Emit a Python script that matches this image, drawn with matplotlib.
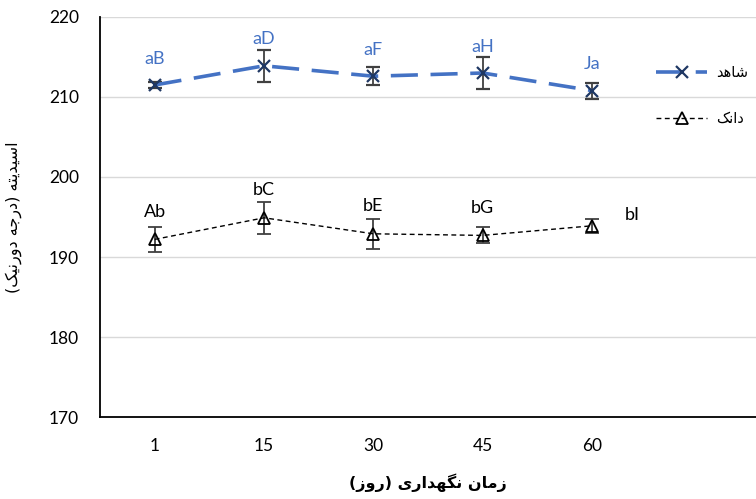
import matplotlib
matplotlib.use("Agg")
import matplotlib.pyplot as plt
import numpy as np
from matplotlib.lines import Line2D

# ---------------- data ----------------
days = ["1", "15", "30", "45", "60"]
control_vals = [211.5, 213.9, 212.6, 213.0, 210.8]
control_err = [0.4, 2.0, 1.1, 2.0, 1.0]
control_labels = ["aB", "aD", "aF", "aH", "Ja"]
dank_vals = [192.2, 194.9, 192.9, 192.7, 193.9]
dank_err = [1.6, 2.0, 1.9, 1.0, 0.9]
dank_labels = ["Ab", "bC", "bE", "bG", "bI"]
yticks = [170, 180, 190, 200, 210, 220]

# ---------------- minimal Persian shaping ----------------
FORMS = {
    "ا": ("\uFE8D", "\uFE8E", None, None),
    "د": ("\uFEA9", "\uFEAA", None, None),
    "ر": ("\uFEAD", "\uFEAE", None, None),
    "ز": ("\uFEAF", "\uFEB0", None, None),
    "و": ("\uFEED", "\uFEEE", None, None),
    "س": ("\uFEB1", "\uFEB2", "\uFEB3", "\uFEB4"),
    "ش": ("\uFEB5", "\uFEB6", "\uFEB7", "\uFEB8"),
    "ت": ("\uFE95", "\uFE96", "\uFE97", "\uFE98"),
    "ج": ("\uFE9D", "\uFE9E", "\uFE9F", "\uFEA0"),
    "ه": ("\uFEE9", "\uFEEA", "\uFEEB", "\uFEEC"),
    "ن": ("\uFEE5", "\uFEE6", "\uFEE7", "\uFEE8"),
    "م": ("\uFEE1", "\uFEE2", "\uFEE3", "\uFEE4"),
    "ی": ("\uFBFC", "\uFBFD", "\uFBFE", "\uFBFF"),
    "ک": ("\uFB8E", "\uFB8F", "\uFB90", "\uFB91"),
    "گ": ("\uFB92", "\uFB93", "\uFB94", "\uFB95"),
}


def shape(s):
    out = []
    n = len(s)
    for i, c in enumerate(s):
        if c not in FORMS:
            out.append(c)
            continue
        iso, fin, ini, med = FORMS[c]
        prev = s[i - 1] if i > 0 else None
        nxt = s[i + 1] if i < n - 1 else None
        jp = prev in FORMS and FORMS[prev][2] is not None
        jn = ini is not None and nxt in FORMS
        if jp and jn:
            out.append(med)
        elif jp:
            out.append(fin)
        elif jn:
            out.append(ini)
        else:
            out.append(iso)
    vis = "".join(reversed(out))
    return vis.translate(str.maketrans("()", ")("))


ylabel = shape("اسیدیته (درجه دورنیک)")
xlabel = shape("زمان نگهداری (روز)")
leg1 = shape("شاهد")
leg2 = shape("دانک")

plt.rcParams["font.family"] = ["Lato", "DejaVu Sans"]

fig = plt.figure(figsize=(7.56, 4.99), dpi=100)
ax = fig.add_axes([100 / 756, 82 / 499, 656 / 756, 400 / 499])

x = np.arange(len(days))

ax.errorbar(x, control_vals, yerr=control_err, color="#4472C4", lw=2.6,
            dashes=(7.5, 3.5), marker="x", ms=9, mew=1.6, mec="#1F3864",
            ecolor="#404040", elinewidth=1.3, capsize=5, capthick=1.3, zorder=3)
ax.errorbar(x, dank_vals, yerr=dank_err, color="black", lw=1.0,
            dashes=(3.5, 2.5), marker="^", ms=8, mew=1.3, mfc="none", mec="black",
            ecolor="#404040", elinewidth=1.3, capsize=5, capthick=1.3, zorder=3)

for xi, v, lab in zip(x, control_vals, control_labels):
    ax.annotate(lab, (xi, v), xytext=(0, 19), textcoords="offset points",
                ha="center", va="center", fontsize=13, color="#4472C4")
for xi, v, lab in zip(x, dank_vals, dank_labels):
    if lab == "bI":
        off = (29, 8)
    else:
        off = (0, 20)
    ax.annotate(lab, (xi, v), xytext=off, textcoords="offset points",
                ha="center", va="center", fontsize=13, color="black")

ax.set_xlim(-0.5, 5.5)
ax.set_ylim(170, 220)
ax.set_yticks(yticks)
ax.set_xticks(x)
ax.set_xticklabels(days)
ax.tick_params(length=0, labelsize=12.5)
ax.tick_params(axis="x", pad=15)
ax.tick_params(axis="y", pad=15)
ax.grid(axis="y", color="#D9D9D9", lw=1)
ax.set_axisbelow(True)
for sp in ["top", "right"]:
    ax.spines[sp].set_visible(False)
ax.spines["left"].set_color("black")
ax.spines["bottom"].set_color("black")
ax.spines["left"].set_linewidth(1.3)
ax.spines["bottom"].set_linewidth(1.3)

ax.set_ylabel(ylabel, family=["DejaVu Sans"], fontsize=11.5)
ax.yaxis.set_label_coords(-78 / 656, 0.5)
ax.set_xlabel(xlabel, family=["DejaVu Sans"], fontsize=11.5, fontweight="bold", labelpad=14)

# legend placed at the right edge, as in the reference
h1 = Line2D([], [], color="#4472C4", lw=2.6, dashes=(7.5, 3.5), marker="x", ms=9,
            mew=1.6, mec="#1F3864")
h2 = Line2D([], [], color="black", lw=1.0, dashes=(3.5, 2.5), marker="^", ms=8,
            mew=1.3, mfc="none", mec="black")
fig.legend([h1, h2], [leg1, leg2], loc="upper left",
           bbox_to_anchor=(643 / 756, 1 - 52 / 499), frameon=False,
           prop={"family": ["DejaVu Sans"], "size": 10.5}, handlelength=3.5,
           labelspacing=2.1, handletextpad=0.6)

fig.savefig("out.png", dpi=100)
